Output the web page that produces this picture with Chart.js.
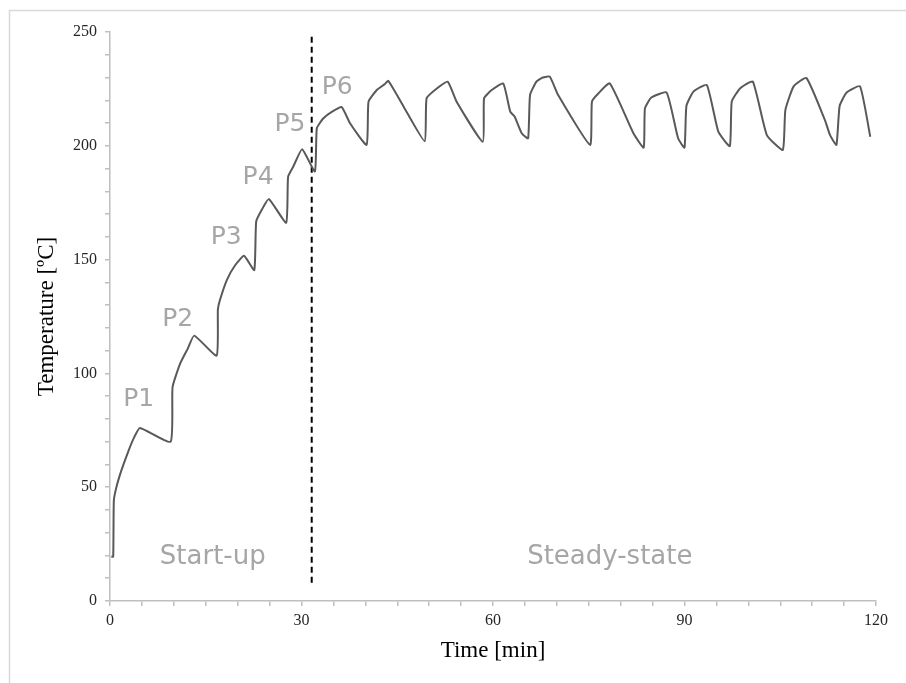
<!DOCTYPE html>
<html>
<head>
<meta charset="utf-8">
<script src="https://cdn.jsdelivr.net/npm/chart.js@4"></script>
<style>
  html, body { margin: 0; padding: 0; background: #fff; }
  #wrap { width: 906px; height: 683px; }
</style>
</head>
<body>
<div id="wrap"><canvas id="temp-chart" width="906" height="683"></canvas></div>
<script>
// time [min] and temperature [°C]
const timeMin = [
  0.2, 0.5, 0.6, 1.0, 1.8, 2.9, 3.8, 4.7, 9.5,
  9.8, 11.0, 12.2, 13.2, 16.7,
  16.9, 17.2, 18.3, 19.6, 21.0, 22.6,
  22.9, 23.8, 24.9, 27.6,
  27.9, 28.7, 30.1, 32.1,
  32.4, 33.4, 34.8, 36.3, 37.6, 40.2,
  40.5, 41.8, 43.0, 43.6, 46.0, 49.3,
  49.6, 51.2, 52.9, 54.3, 58.4,
  58.6, 59.8, 61.6, 62.7, 63.4, 64.5, 65.5,
  65.8, 66.8, 67.8, 68.9, 70.2, 75.2,
  75.5, 76.5, 78.3, 82.0, 83.6,
  83.8, 84.8, 87.2, 89.0, 90.0,
  90.3, 91.4, 93.5, 95.3, 97.1,
  97.4, 98.7, 100.7, 102.9, 105.4,
  105.8, 107.1, 109.1, 112.0, 112.8, 113.8,
  114.3, 115.4, 117.5, 119.1
];
const tempC = [
  19.5, 19.5, 44, 50, 57.5, 66, 72, 76, 70,
  94, 104.4, 111, 116.6, 107.8,
  128, 132, 141, 147.5, 151.7, 145.4,
  166.7, 172, 176.6, 166.2,
  186.4, 190.8, 198.5, 188.7,
  207.7, 212, 215, 217, 209.9, 200.4,
  219.4, 224.5, 227, 228.5, 217.2, 202,
  220.9, 225.2, 228.2, 219.4, 201.8,
  220.9, 224.5, 227.4, 215, 212.8, 205.5, 203.3,
  222.3, 228.2, 230, 230.4, 222.3, 200.4,
  219.4, 223, 227.4, 205.5, 199.2,
  216.4, 221.2, 223.4, 203.3, 199.2,
  217.5, 223.8, 226.7, 206.2, 199.9,
  219.4, 225.2, 228.2, 204.7, 198.2,
  215.7, 226.1, 229.8, 211.3, 204.7, 200.4,
  217.5, 223.4, 226.1, 204
];

// start-up / steady-state boundary
const boundaryTime = 31.6;
const boundaryRange = [8, 248.5];

// phase labels (placed in data units)
const phaseLabels = ["P1", "P2", "P3", "P4", "P5", "P6"];
const phaseLabelTime = [4.5, 10.6, 18.2, 23.2, 28.2, 35.6];
const phaseLabelTemp = [88.7, 123.9, 159.9, 185.9, 209.4, 225.6];

const regionLabels = ["Start-up", "Steady-state"];
const regionLabelTime = [16.1, 78.3];
const regionLabelTemp = [19.3, 19.3];

const axisGray = "#bfbfbf";
const labelGray = "#a6a6a6";
const serif = "'Liberation Serif', 'Times New Roman', serif";

const framePlugin = {
  id: "frame",
  beforeDraw(chart) {
    const ctx = chart.ctx;
    ctx.save();
    ctx.fillStyle = "#fff";
    ctx.fillRect(0, 0, chart.width, chart.height);
    ctx.strokeStyle = "#d9d9d9";
    ctx.lineWidth = 1.5;
    ctx.beginPath();
    ctx.moveTo(9.5, chart.height);
    ctx.lineTo(9.5, 10.5);
    ctx.lineTo(chart.width, 10.5);
    ctx.stroke();
    ctx.restore();
  }
};

const textPlugin = {
  id: "phaseText",
  afterDatasetsDraw(chart) {
    const { ctx, scales } = chart;
    ctx.save();
    ctx.fillStyle = labelGray;
    ctx.textAlign = "center";
    ctx.textBaseline = "middle";
    ctx.font = "25px 'DejaVu Sans', Verdana, sans-serif";
    phaseLabels.forEach((txt, i) => {
      ctx.fillText(txt, scales.x.getPixelForValue(phaseLabelTime[i]), scales.y.getPixelForValue(phaseLabelTemp[i]));
    });
    ctx.font = "26px 'DejaVu Sans', Verdana, sans-serif";
    regionLabels.forEach((txt, i) => {
      ctx.fillText(txt, scales.x.getPixelForValue(regionLabelTime[i]), scales.y.getPixelForValue(regionLabelTemp[i]));
    });
    ctx.restore();
  }
};

const ctx = document.getElementById("temp-chart").getContext("2d");

new Chart(ctx, {
  type: "line",
  data: {
    datasets: [
      {
        data: timeMin.map((t, i) => ({ x: t, y: tempC[i] })),
        borderColor: "#595959",
        borderWidth: 2,
        pointRadius: 0,
        tension: 0.15,
        fill: false
      },
      {
        data: boundaryRange.map((v) => ({ x: boundaryTime, y: v })),
        borderColor: "#000",
        borderWidth: 2,
        borderDash: [6, 4],
        pointRadius: 0,
        fill: false
      }
    ]
  },
  options: {
    responsive: false,
    animation: false,
    layout: { padding: { left: 0, right: 30, top: 32, bottom: 0 } },
    plugins: { legend: { display: false }, tooltip: { enabled: false } },
    scales: {
      x: {
        type: "linear",
        min: 0,
        max: 120,
        afterFit: (scale) => { scale.height = 82; },
        border: { color: axisGray, width: 1.5 },
        grid: { drawOnChartArea: false, color: axisGray, tickLength: 5, lineWidth: 1.5 },
        ticks: {
          stepSize: 5,
          autoSkip: false,
          maxRotation: 0,
          padding: 5,
          color: "#262626",
          font: { family: serif, size: 16 },
          callback: (v) => (v % 30 === 0 ? v : "")
        },
        title: {
          display: true,
          text: "Time [min]",
          color: "#000",
          font: { family: serif, size: 23 },
          padding: { top: 0, bottom: 18 }
        }
      },
      y: {
        min: 0,
        max: 250,
        afterFit: (scale) => { scale.width = 110; },
        border: { color: axisGray, width: 1.5 },
        grid: { drawOnChartArea: false, color: axisGray, tickLength: 5, lineWidth: 1.5 },
        ticks: {
          stepSize: 10,
          autoSkip: false,
          padding: 8,
          color: "#262626",
          font: { family: serif, size: 16 },
          callback: (v) => (v % 50 === 0 ? v : "")
        },
        title: {
          display: true,
          text: "Temperature [ºC]",
          color: "#000",
          font: { family: serif, size: 23 },
          padding: { top: 33, bottom: 0 }
        }
      }
    }
  },
  plugins: [framePlugin, textPlugin]
});
</script>
</body>
</html>
